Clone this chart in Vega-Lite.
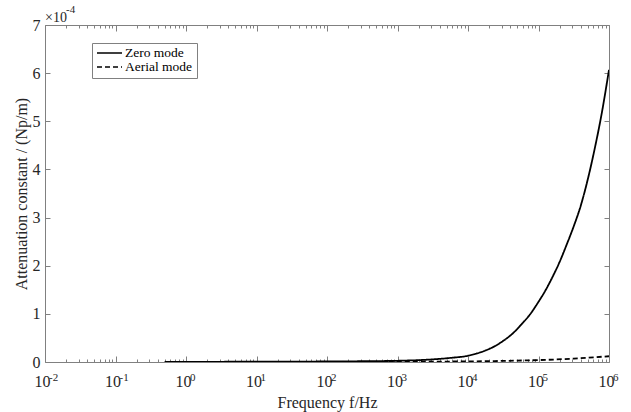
{
  "$schema": "https://vega.github.io/schema/vega-lite/v6.json",
  "width": 564,
  "height": 337,
  "autosize": {"type": "none"},
  "padding": {"left": 45, "top": 25, "right": 22, "bottom": 50},
  "background": "white",
  "config": {
    "view": {"stroke": null},
    "font": "Liberation Serif",
    "axis": {
      "grid": false,
      "domainColor": "#808080",
      "tickColor": "#808080",
      "labelColor": "#262626",
      "titleColor": "#262626",
      "labelFont": "Liberation Serif",
      "titleFont": "Liberation Serif",
      "labelFontSize": 16,
      "titleFontSize": 16,
      "titleFontWeight": "normal"
    }
  },
  "data": {
    "values": [
      {"freq": 0.5, "attenuation": 4e-7, "mode": "Zero mode"},
      {"freq": 1, "attenuation": 4e-7, "mode": "Zero mode"},
      {"freq": 10, "attenuation": 6e-7, "mode": "Zero mode"},
      {"freq": 100, "attenuation": 1.1e-6, "mode": "Zero mode"},
      {"freq": 316.2, "attenuation": 1.6e-6, "mode": "Zero mode"},
      {"freq": 1000, "attenuation": 2.5e-6, "mode": "Zero mode"},
      {"freq": 3162, "attenuation": 5.5e-6, "mode": "Zero mode"},
      {"freq": 5623, "attenuation": 8.5e-6, "mode": "Zero mode"},
      {"freq": 10000, "attenuation": 1.3e-5, "mode": "Zero mode"},
      {"freq": 13335, "attenuation": 1.77e-5, "mode": "Zero mode"},
      {"freq": 17783, "attenuation": 2.4e-5, "mode": "Zero mode"},
      {"freq": 23714, "attenuation": 3.25e-5, "mode": "Zero mode"},
      {"freq": 31623, "attenuation": 4.4e-5, "mode": "Zero mode"},
      {"freq": 42170, "attenuation": 5.8e-5, "mode": "Zero mode"},
      {"freq": 56234, "attenuation": 7.7e-5, "mode": "Zero mode"},
      {"freq": 74989, "attenuation": 9.8e-5, "mode": "Zero mode"},
      {"freq": 100000, "attenuation": 1.25e-4, "mode": "Zero mode"},
      {"freq": 125893, "attenuation": 1.49e-4, "mode": "Zero mode"},
      {"freq": 158489, "attenuation": 1.77e-4, "mode": "Zero mode"},
      {"freq": 199526, "attenuation": 2.08e-4, "mode": "Zero mode"},
      {"freq": 251189, "attenuation": 2.44e-4, "mode": "Zero mode"},
      {"freq": 316228, "attenuation": 2.82e-4, "mode": "Zero mode"},
      {"freq": 398107, "attenuation": 3.25e-4, "mode": "Zero mode"},
      {"freq": 501187, "attenuation": 3.80e-4, "mode": "Zero mode"},
      {"freq": 630957, "attenuation": 4.45e-4, "mode": "Zero mode"},
      {"freq": 794328, "attenuation": 5.19e-4, "mode": "Zero mode"},
      {"freq": 1000000, "attenuation": 6.07e-4, "mode": "Zero mode"},
      {"freq": 0.5, "attenuation": 1e-7, "mode": "Aerial mode"},
      {"freq": 1, "attenuation": 1e-7, "mode": "Aerial mode"},
      {"freq": 10, "attenuation": 1.5e-7, "mode": "Aerial mode"},
      {"freq": 100, "attenuation": 2e-7, "mode": "Aerial mode"},
      {"freq": 1000, "attenuation": 4e-7, "mode": "Aerial mode"},
      {"freq": 3162, "attenuation": 7e-7, "mode": "Aerial mode"},
      {"freq": 10000, "attenuation": 1.3e-6, "mode": "Aerial mode"},
      {"freq": 31623, "attenuation": 2.3e-6, "mode": "Aerial mode"},
      {"freq": 100000, "attenuation": 4e-6, "mode": "Aerial mode"},
      {"freq": 316228, "attenuation": 7e-6, "mode": "Aerial mode"},
      {"freq": 1000000, "attenuation": 1.2e-5, "mode": "Aerial mode"}
    ]
  },
  "layer": [
    {
      "mark": {"type": "line", "color": "black", "strokeWidth": 1.8, "interpolate": "monotone", "clip": true},
      "encoding": {
        "x": {
          "field": "freq",
          "type": "quantitative",
          "scale": {"type": "log", "domain": [0.01, 1000000], "nice": false},
          "axis": {
            "orient": "bottom",
            "title": "Frequency f/Hz",
            "titlePadding": 2,
            "values": [0.01,0.02,0.03,0.04,0.05,0.06,0.07,0.08,0.09,0.1,0.2,0.3,0.4,0.5,0.6,0.7,0.8,0.9,1,2,3,4,5,6,7,8,9,10,20,30,40,50,60,70,80,90,100,200,300,400,500,600,700,800,900,1000,2000,3000,4000,5000,6000,7000,8000,9000,10000,20000,30000,40000,50000,60000,70000,80000,90000,100000,200000,300000,400000,500000,600000,700000,800000,900000,1000000],
            "labelExpr": "abs(log(datum.value)/LN10 - round(log(datum.value)/LN10)) < 0.000001 ? '10' : ''",
            "labelOverlap": false,
            "labelFlush": false,
            "labelPadding": 17,
            "labelOffset": -3,
            "tickSize": {"condition": {"test": "abs(log(datum.value)/LN10 - round(log(datum.value)/LN10)) < 0.000001", "value": -6}, "value": -3}
          }
        },
        "y": {
          "field": "attenuation",
          "type": "quantitative",
          "scale": {"domain": [0, 0.0007], "nice": false},
          "axis": {
            "orient": "left",
            "title": "Attenuation constant / (Np/m)",
            "values": [0, 0.0001, 0.0002, 0.0003, 0.0004, 0.0005, 0.0006, 0.0007],
            "labelExpr": "format(round(datum.value*10000), 'd')",
            "tickSize": -5,
            "labelPadding": 10,
            "titlePadding": 3
          }
        },
        "strokeDash": {
          "field": "mode",
          "type": "nominal",
          "scale": {"domain": ["Zero mode", "Aerial mode"], "range": [[1, 0], [5, 3]]},
          "legend": {
            "orient": "none",
            "legendX": 47,
            "legendY": 18,
            "title": null,
            "symbolType": "stroke",
            "symbolStrokeColor": "black",
            "symbolStrokeWidth": 1.6,
            "symbolSize": 625,
            "clipHeight": 12,
            "labelFont": "Liberation Serif",
            "labelFontSize": 13.5,
            "labelColor": "black",
            "labelOffset": 2,
            "strokeColor": "#808080",
            "fillColor": "white",
            "padding": 4,
            "rowPadding": 0
          }
        }
      }
    },
    {
      "data": {"values": [{"freq": 0.01, "attenuation": 0.0007, "label": "×10"}]},
      "mark": {"type": "text", "align": "left", "baseline": "alphabetic", "dy": -3, "fontSize": 14, "font": "Liberation Serif", "color": "#262626"},
      "encoding": {
        "x": {
          "field": "freq",
          "type": "quantitative",
          "scale": {"type": "log", "domain": [0.01, 1000000], "nice": false},
          "axis": {
            "orient": "top",
            "title": null,
            "labels": false,
            "values": [0.01,0.02,0.03,0.04,0.05,0.06,0.07,0.08,0.09,0.1,0.2,0.3,0.4,0.5,0.6,0.7,0.8,0.9,1,2,3,4,5,6,7,8,9,10,20,30,40,50,60,70,80,90,100,200,300,400,500,600,700,800,900,1000,2000,3000,4000,5000,6000,7000,8000,9000,10000,20000,30000,40000,50000,60000,70000,80000,90000,100000,200000,300000,400000,500000,600000,700000,800000,900000,1000000],
            "tickSize": {"condition": {"test": "abs(log(datum.value)/LN10 - round(log(datum.value)/LN10)) < 0.000001", "value": -6}, "value": -3}
          }
        },
        "y": {
          "field": "attenuation",
          "type": "quantitative",
          "scale": {"domain": [0, 0.0007], "nice": false},
          "axis": {
            "orient": "right",
            "title": null,
            "labels": false,
            "values": [0, 0.0001, 0.0002, 0.0003, 0.0004, 0.0005, 0.0006, 0.0007],
            "tickSize": -5
          }
        },
        "text": {"field": "label"}
      }
    },
    {
      "data": {"values": [{"freq": 0.01, "attenuation": 0.0007, "label": "-4"}]},
      "mark": {"type": "text", "align": "left", "baseline": "alphabetic", "dx": 21, "dy": -12, "fontSize": 11, "font": "Liberation Serif", "color": "#262626"},
      "encoding": {
        "x": {"field": "freq", "type": "quantitative", "scale": {"type": "log", "domain": [0.01, 1000000], "nice": false}, "axis": null},
        "y": {"field": "attenuation", "type": "quantitative", "scale": {"domain": [0, 0.0007], "nice": false}, "axis": null},
        "text": {"field": "label"}
      }
    },
    {
      "data": {"values": [
        {"freq": 0.01, "attenuation": 0, "exponent": "-2"},
        {"freq": 0.1, "attenuation": 0, "exponent": "-1"},
        {"freq": 1, "attenuation": 0, "exponent": "0"},
        {"freq": 10, "attenuation": 0, "exponent": "1"},
        {"freq": 100, "attenuation": 0, "exponent": "2"},
        {"freq": 1000, "attenuation": 0, "exponent": "3"},
        {"freq": 10000, "attenuation": 0, "exponent": "4"},
        {"freq": 100000, "attenuation": 0, "exponent": "5"},
        {"freq": 1000000, "attenuation": 0, "exponent": "6"}
      ]},
      "mark": {"type": "text", "align": "left", "baseline": "alphabetic", "dx": 4, "dy": 19, "fontSize": 11, "font": "Liberation Serif", "color": "#262626"},
      "encoding": {
        "x": {"field": "freq", "type": "quantitative", "scale": {"type": "log", "domain": [0.01, 1000000], "nice": false}, "axis": null},
        "y": {"field": "attenuation", "type": "quantitative", "scale": {"domain": [0, 0.0007], "nice": false}, "axis": null},
        "text": {"field": "exponent"}
      }
    }
  ],
  "resolve": {"axis": {"x": "independent", "y": "independent"}}
}
